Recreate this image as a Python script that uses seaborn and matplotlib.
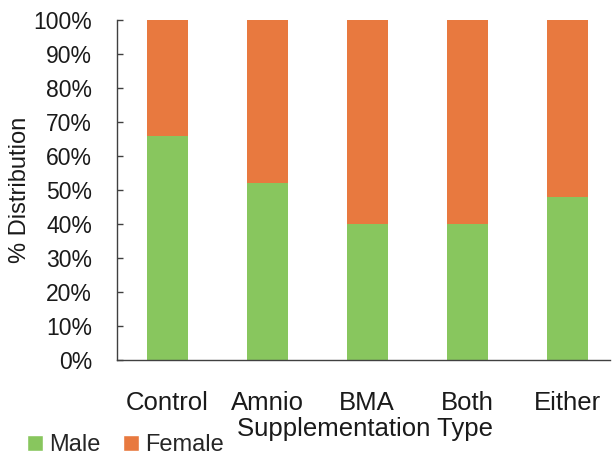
import matplotlib
matplotlib.use("Agg")
import matplotlib.pyplot as plt
import seaborn as sns
import pandas as pd
from matplotlib.patches import Patch
from matplotlib.ticker import FuncFormatter

categories = ["Control", "Amnio", "BMA", "Both", "Either"]
male = [66, 52, 40, 40, 48]
female = [34, 48, 60, 60, 52]
yticks = [0, 10, 20, 30, 40, 50, 60, 70, 80, 90, 100]

green = "#88C65E"
orange = "#E8793F"

sns.set_theme(style="white")
plt.rcParams["font.family"] = ["Liberation Sans", "DejaVu Sans"]

df = pd.DataFrame({"cat": categories, "male": male, "female": female})
df["total"] = df["male"] + df["female"]

fig = plt.figure(figsize=(6.13, 4.59), dpi=100)
ax = fig.add_axes([117 / 613, 1 - 360 / 459, 493 / 613, 340 / 459])

sns.barplot(data=df, x="cat", y="total", color=orange, width=0.41,
            saturation=1, ax=ax, edgecolor="none")
sns.barplot(data=df, x="cat", y="male", color=green, width=0.41,
            saturation=1, ax=ax, edgecolor="none")

ax.set_ylim(0, 100)
ax.set_xlim(-0.5, 4.43)
ax.set_yticks(yticks)
ax.yaxis.set_major_formatter(FuncFormatter(lambda v, p: f"{int(v)}%"))
for s in ["top", "right"]:
    ax.spines[s].set_visible(False)
for s in ["left", "bottom"]:
    ax.spines[s].set_color("#404040")
    ax.spines[s].set_linewidth(1.0)
ax.tick_params(axis="y", which="major", left=True, direction="in", length=4, width=1,
               color="#404040", labelsize=16.5, pad=18, labelcolor="#1a1a1a")
ax.tick_params(axis="x", bottom=False, labelsize=18.5, pad=16, labelcolor="#1a1a1a")
ax.set_xlabel("Supplementation Type", fontsize=18.5, color="#1a1a1a")
ax.set_ylabel("% Distribution", fontsize=17, color="#1a1a1a")
ax.xaxis.set_label_coords(0.503, -0.1676)
ax.yaxis.set_label_coords(-0.1744, 0.5)

handles = [Patch(facecolor=green, label="Male"), Patch(facecolor=orange, label="Female")]
fig.legend(handles=handles, loc="lower left", bbox_to_anchor=(27 / 613, 0.006), ncol=2,
           frameon=False, fontsize=17, handlelength=0.68, handleheight=0.65,
           handletextpad=0.25, columnspacing=0.97, borderaxespad=0.0, borderpad=0.0)

fig.savefig("out.png", dpi=100)
